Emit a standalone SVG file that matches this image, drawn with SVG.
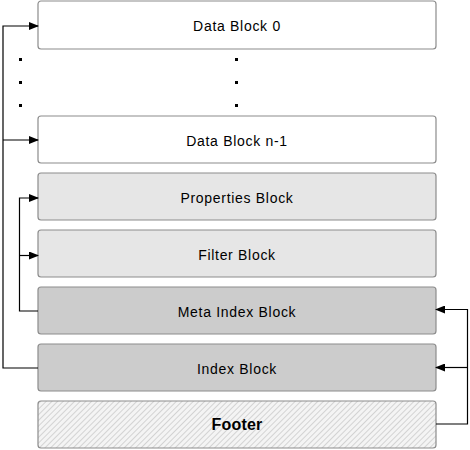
<svg xmlns="http://www.w3.org/2000/svg" width="470" height="450" viewBox="0 0 470 450">
<style>
.b{stroke:#8c8c8c;stroke-width:1.2}
.w{fill:#ffffff}
.l{fill:#e6e6e6}
.d{fill:#cccccc}
.t{font-family:"Liberation Sans",Arial,sans-serif;font-size:14px;letter-spacing:0.7px;fill:#000;text-anchor:middle}
.c{fill:none;stroke:#000;stroke-width:1.2}
</style>
<defs>
<marker id="ah" markerWidth="10" markerHeight="8" refX="9" refY="4" orient="auto" markerUnits="userSpaceOnUse">
<path d="M0,0 L10,4 L0,8 z" fill="#000"/>
</marker>
<pattern id="hatch" patternUnits="userSpaceOnUse" width="4" height="4" patternTransform="rotate(45)">
<rect width="4" height="4" fill="#f4f4f4"/>
<line x1="0" y1="0" x2="0" y2="4" stroke="#c8c8c8" stroke-width="1.5"/>
</pattern>
</defs>
<g id="data0"><rect class="b w" x="38" y="1" width="398" height="48" rx="3"/><text class="t" x="237" y="31">Data Block 0</text></g>
<g id="dots">
<rect x="19" y="58" width="3" height="3" fill="#000"/><rect x="19" y="81" width="3" height="3" fill="#000"/><rect x="19" y="104" width="3" height="3" fill="#000"/>
<rect x="235" y="58" width="3" height="3" fill="#000"/><rect x="235" y="81" width="3" height="3" fill="#000"/><rect x="235" y="104" width="3" height="3" fill="#000"/>
</g>
<g id="datan"><rect class="b w" x="38" y="116" width="398" height="47" rx="3"/><text class="t" x="237" y="145.5">Data Block n-1</text></g>
<g id="props"><rect class="b l" x="38" y="173" width="398" height="47" rx="3"/><text class="t" x="237" y="202.5">Properties Block</text></g>
<g id="filter"><rect class="b l" x="38" y="230" width="398" height="47" rx="3"/><text class="t" x="237" y="259.5">Filter Block</text></g>
<g id="meta"><rect class="b d" x="38" y="287" width="398" height="47" rx="3"/><text class="t" x="237" y="316.5">Meta Index Block</text></g>
<g id="index"><rect class="b d" x="38" y="344" width="398" height="47" rx="3"/><text class="t" x="237" y="373.5">Index Block</text></g>
<g id="footer"><rect class="b" fill="url(#hatch)" x="38" y="401" width="398" height="47" rx="3"/><text class="t" x="237" y="430" style="font-weight:bold;font-size:16px;letter-spacing:0.2px">Footer</text></g>
<g id="connectors">
<path class="c" d="M38,368 H3 V26 H38" marker-end="url(#ah)"/>
<path class="c" d="M3,140 H38" marker-end="url(#ah)"/>
<path class="c" d="M38,311 H19.5 V198 H38" marker-end="url(#ah)"/>
<path class="c" d="M19.5,255.5 H38" marker-end="url(#ah)"/>
<path class="c" d="M436,424 H467.5 V309.5 H436" marker-end="url(#ah)"/>
<path class="c" d="M467.5,367.5 H436" marker-end="url(#ah)"/>
</g>
</svg>
